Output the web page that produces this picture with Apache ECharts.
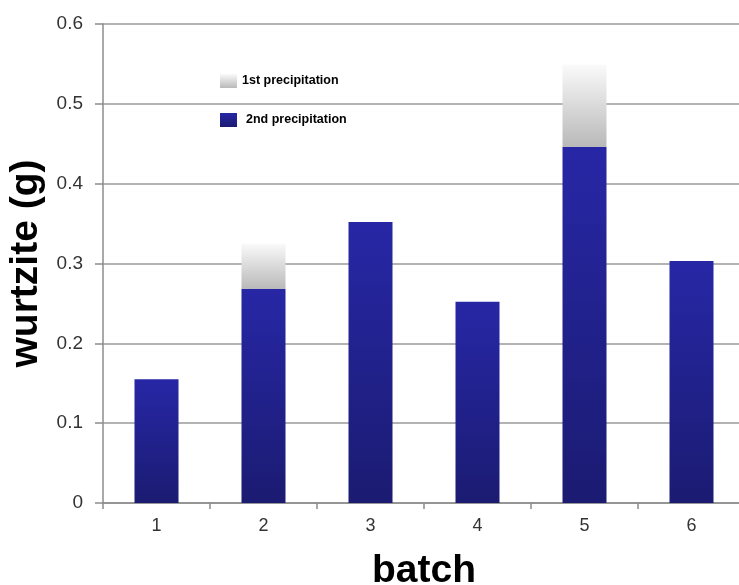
<!DOCTYPE html>
<html>
<head>
<meta charset="utf-8">
<script src="https://cdn.jsdelivr.net/npm/echarts@6/dist/echarts.min.js"></script>
<style>
  html, body { margin: 0; padding: 0; background: #fff; }
  #chart { width: 739px; height: 585px; }
</style>
</head>
<body>
<div id="chart"></div>
<script>
// Wurtzite yield per batch, stacked by precipitation step
const batches = ['1', '2', '3', '4', '5', '6'];
const secondPrecipitation = [0.155, 0.268, 0.352, 0.252, 0.446, 0.303];
const firstPrecipitation = [null, 0.057, null, null, 0.103, null];

const blueFill = new echarts.graphic.LinearGradient(0, 0, 0, 1, [
  { offset: 0, color: '#2727a6' },
  { offset: 1, color: '#1b1b72' }
]);
const greyFill = new echarts.graphic.LinearGradient(0, 0, 0, 1, [
  { offset: 0, color: '#fafafa' },
  { offset: 1, color: '#b9b9b9' }
]);

const chart = echarts.init(document.getElementById('chart'));
chart.setOption({
  animation: false,
  backgroundColor: '#ffffff',
  textStyle: { fontFamily: 'Liberation Sans, Arial, sans-serif' },
  grid: { left: 103, top: 24, bottom: 82, width: 642, containLabel: false, outerBoundsMode: 'none' },
  legend: {
    orient: 'vertical',
    left: 215,
    top: 69,
    itemGap: 25,
    itemWidth: 17,
    itemHeight: 14,
    icon: 'rect',
    textStyle: { fontSize: 12.5, fontWeight: 'bold', color: '#000' },
    data: [
      { name: '1st precipitation', itemStyle: { color: greyFill } },
      { name: '2nd precipitation', itemStyle: { color: blueFill }, textStyle: { padding: [0, 0, 0, 4] } }
    ]
  },
  xAxis: {
    type: 'category',
    data: batches,
    name: 'batch',
    nameLocation: 'middle',
    nameGap: 49,
    nameTextStyle: { fontSize: 39, fontWeight: 'bold', color: '#000' },
    axisLine: { lineStyle: { color: '#8c8c8c', width: 1.5 } },
    axisTick: { show: true, length: 6, lineStyle: { color: '#8c8c8c', width: 1.5 } },
    axisLabel: { fontSize: 18, color: '#333', margin: 14 }
  },
  yAxis: {
    type: 'value',
    min: 0,
    max: 0.6,
    interval: 0.1,
    name: 'wurtzite (g)',
    nameLocation: 'middle',
    nameGap: 53,
    nameTextStyle: { fontSize: 39, fontWeight: 'bold', color: '#000' },
    axisLine: { show: true, lineStyle: { color: '#8c8c8c', width: 1.5 } },
    axisTick: { show: true, length: 8, lineStyle: { color: '#8c8c8c', width: 1.5 } },
    axisLabel: { fontSize: 19, color: '#333', margin: 20, formatter: v => String(+v.toFixed(1)) },
    splitLine: { lineStyle: { color: '#9a9a9a', width: 1.5 } }
  },
  series: [
    {
      name: '2nd precipitation',
      type: 'bar',
      stack: 'total',
      barWidth: 44,
      data: secondPrecipitation,
      itemStyle: { color: blueFill }
    },
    {
      name: '1st precipitation',
      type: 'bar',
      stack: 'total',
      barWidth: 44,
      data: firstPrecipitation,
      itemStyle: { color: greyFill }
    }
  ]
});
</script>
</body>
</html>
